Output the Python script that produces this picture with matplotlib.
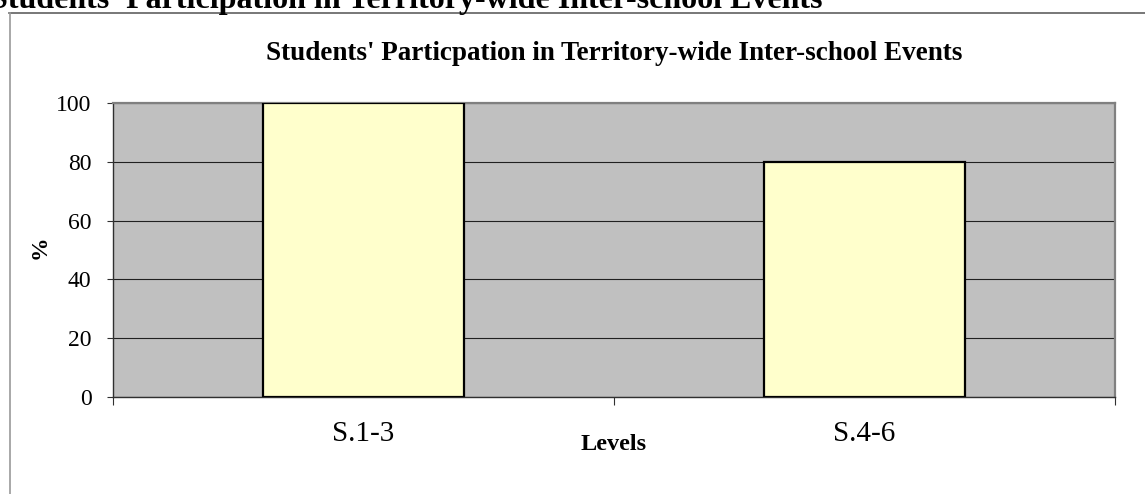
import matplotlib
matplotlib.use("Agg")
import matplotlib.pyplot as plt
from matplotlib.lines import Line2D

categories = ["S.1-3", "S.4-6"]
values = [100, 80]
yticks = [0, 20, 40, 60, 80, 100]
page_title = "Students' Participation in Territory-wide Inter-school Events"
chart_title = "Students' Particpation in Territory-wide Inter-school Events"
xlabel = "Levels"
ylabel = "%"

plt.rcParams['font.family'] = ['Liberation Serif', 'DejaVu Serif']

W, H = 1145, 494
fig = plt.figure(figsize=(W / 100, H / 100), dpi=100)

# outer chart frame
fig.add_artist(Line2D([9 / W, 1.0], [1 - 13 / H, 1 - 13 / H], transform=fig.transFigure,
                      color='#606060', lw=1.2))
fig.add_artist(Line2D([9.5 / W, 9.5 / W], [1 - 13 / H, 0], transform=fig.transFigure,
                      color='#999999', lw=1.2))

# page heading (clipped at top in the reference)
fig.text(822 / W, 1 - 8 / H, page_title, ha='right', va='baseline',
         fontsize=23, fontweight='bold', color='black')

ax = fig.add_axes([113 / W, 1 - 397 / H, (1115 - 113) / W, (397 - 103) / H])
ax.set_facecolor('#C0C0C0')
x = list(range(len(categories)))
ax.bar(x, values, width=0.4, color='#FFFFCC', edgecolor='black', linewidth=1.6, zorder=3)

ax.set_xlim(-0.5, len(categories) - 0.5)
ax.set_ylim(0, 100)
ax.set_yticks(yticks)
ax.set_yticklabels([str(v) for v in yticks], fontsize=17)
ax.yaxis.grid(True, color='#202020', lw=0.8, zorder=1)
ax.set_axisbelow(True)
ax.tick_params(axis='y', direction='out', length=4.5, width=0.8, color='#303030', pad=11)

ax.set_xticks([i - 0.5 for i in range(len(categories) + 1)])
ax.set_xticklabels([])
ax.set_xticks(x, minor=True)
ax.set_xticklabels(categories, minor=True, fontsize=21)
ax.tick_params(axis='x', which='major', direction='out', length=6, width=0.8, color='#303030')
ax.tick_params(axis='x', which='minor', length=0, pad=17)

for s in ['top', 'right']:
    ax.spines[s].set_color('#808080')
    ax.spines[s].set_linewidth(1.6)
for s in ['left', 'bottom']:
    ax.spines[s].set_color('#303030')
    ax.spines[s].set_linewidth(1.0)

ax.set_title(chart_title, fontsize=19.5, fontweight='bold', pad=31)
ax.set_xlabel(xlabel, fontsize=17.5, fontweight='bold', va='center')
ax.xaxis.set_label_coords(0.5, (397 - 444) / 294)
ax.set_ylabel(ylabel, fontsize=17, fontweight='bold', va='center')
ax.yaxis.set_label_coords((40 - 113) / 1002, (397 - 247) / 294)

fig.savefig('out.png', dpi=100)
